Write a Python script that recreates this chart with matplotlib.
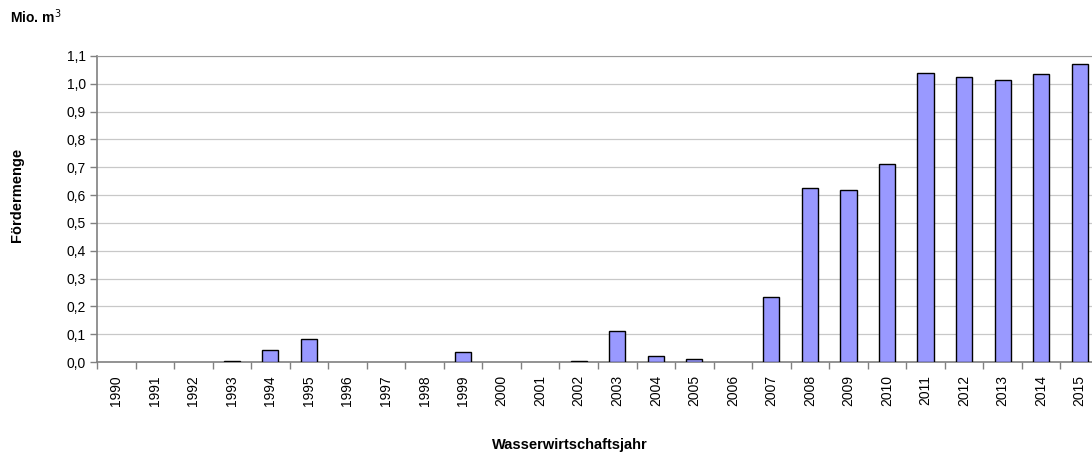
import matplotlib
matplotlib.use("Agg")
import matplotlib.pyplot as plt
import numpy as np

plt.rcParams.update({
    "font.family": ["Liberation Sans", "DejaVu Sans"],
    "font.size": 10,
})

# ---- data ----
years = [str(y) for y in range(1990, 2016)]
volume = [0.0, 0.0, 0.0, 0.003, 0.043, 0.082, 0.0, 0.0, 0.0, 0.037,
          0.0, 0.0, 0.005, 0.111, 0.020, 0.012, 0.0, 0.234, 0.626, 0.620,
          0.711, 1.040, 1.026, 1.014, 1.035, 1.071]
yticks = np.round(np.arange(0, 1.11, 0.1), 1)

fig = plt.figure(figsize=(10.92, 4.59), dpi=100)
# right edge of the plot area is cut off in the original, so let it run past the figure
ax = fig.add_axes([0.0888, 0.2113, 0.9176, 0.6667])

x = np.arange(len(years))
vals = np.array(volume)
shown = vals > 0  # empty years get no bar at all
ax.bar(x[shown], vals[shown], width=0.42, color="#9999FF", edgecolor="black",
       lw=1.0, zorder=3)

ax.set_xlim(-0.5, len(years) - 0.5)
ax.set_ylim(0, 1.1)
ax.set_yticks(yticks)
ax.set_yticklabels([f"{v:.1f}".replace(".", ",") for v in yticks])
ax.yaxis.grid(True, color="#c8c8c8", lw=0.9, zorder=0)

ax.set_xticks(x)
ax.set_xticklabels(years, rotation=90)
ax.set_xticks(np.arange(-0.5, len(years)), minor=True)
ax.tick_params(axis="x", which="major", length=0, pad=9.5)
ax.tick_params(axis="x", which="minor", length=5, color="#808080", width=1)
ax.tick_params(axis="y", length=5, color="#808080", width=1, pad=3)

for s in ("left", "bottom"):
    ax.spines[s].set_color("#808080")
    ax.spines[s].set_linewidth(1.2)
ax.spines["top"].set_color("#999999")
ax.spines["right"].set_visible(False)

fig.text(0.0155, 0.575, "Fördermenge", rotation=90, ha="center", va="center",
         fontsize=10.5, fontweight="bold")
fig.text(0.522, 0.031, "Wasserwirtschaftsjahr", ha="center", va="center",
         fontsize=10.5, fontweight="bold")
fig.text(0.009, 0.963, "Mio. m$^3$", ha="left", va="center",
         fontsize=10, fontweight="bold")

fig.savefig("out.png", dpi=100, facecolor="white")
